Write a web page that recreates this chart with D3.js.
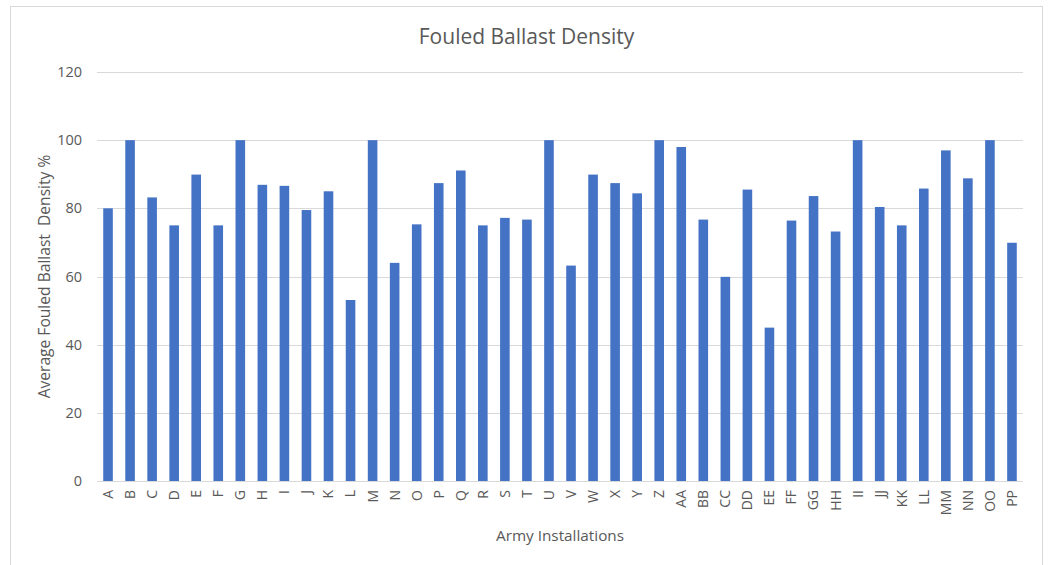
<!DOCTYPE html>
<html>
<head>
<meta charset="utf-8">
<script src="https://cdn.jsdelivr.net/npm/d3@7"></script>
<style>
  body { margin: 0; background: #fff; }
  text { font-family: 'Open Sans', sans-serif; fill: #595959; }
</style>
</head>
<body>
<div id="root"></div>
<script>
const width = 1051
const height = 565

const installations = ['A', 'B', 'C', 'D', 'E', 'F', 'G', 'H', 'I', 'J', 'K', 'L', 'M', 'N',
  'O', 'P', 'Q', 'R', 'S', 'T', 'U', 'V', 'W', 'X', 'Y', 'Z', 'AA', 'BB', 'CC', 'DD',
  'EE', 'FF', 'GG', 'HH', 'II', 'JJ', 'KK', 'LL', 'MM', 'NN', 'OO', 'PP']
const density = [80, 100, 83.2, 75, 89.9, 75, 100, 86.9, 86.6, 79.5, 85, 53.1, 100, 64,
  75.3, 87.4, 91.1, 75, 77.2, 76.7, 100, 63.2, 89.9, 87.4, 84.4, 100, 98, 76.7, 59.9, 85.5,
  45, 76.4, 83.6, 73.2, 100, 80.4, 75, 85.8, 97, 88.8, 100, 69.9]
const yTicks = [0, 20, 40, 60, 80, 100, 120]

const margin = { top: 72, right: 28, bottom: 84, left: 97 }

const svg = d3.select('#root').append('svg').attr('width', width).attr('height', height)

// chart frame
svg.append('rect')
  .attr('x', 10.5).attr('y', 6.5)
  .attr('width', 1032).attr('height', 600)
  .attr('fill', 'none')
  .attr('stroke', '#d9d9d9')

const x = d3.scaleBand()
  .domain(installations)
  .range([margin.left, width - margin.right])
  .paddingInner(0.565)
  .paddingOuter(0.2825)

const y = d3.scaleLinear()
  .domain([0, 120])
  .range([height - margin.bottom, margin.top])

// gridlines
svg.append('g')
  .selectAll('line')
  .data(yTicks)
  .join('line')
  .attr('x1', margin.left)
  .attr('x2', width - margin.right)
  .attr('y1', (d) => Math.round(y(d)) + 0.5)
  .attr('y2', (d) => Math.round(y(d)) + 0.5)
  .attr('stroke', '#d9d9d9')
  .attr('stroke-width', 1.2)

// y tick labels
svg.append('g')
  .selectAll('text')
  .data(yTicks)
  .join('text')
  .attr('x', 82)
  .attr('y', (d) => y(d))
  .attr('dy', '0.35em')
  .attr('text-anchor', 'end')
  .attr('font-size', 14.5)
  .text((d) => d)

// bars
svg.append('g')
  .selectAll('rect')
  .data(installations)
  .join('rect')
  .attr('x', (d) => x(d))
  .attr('width', x.bandwidth())
  .attr('y', (d, i) => y(density[i]))
  .attr('height', (d, i) => y(0) - y(density[i]))
  .attr('fill', '#4472c4')

// x tick labels, rotated
svg.append('g')
  .selectAll('text')
  .data(installations)
  .join('text')
  .attr('transform', (d) => `translate(${x(d) + x.bandwidth() / 2}, 490) rotate(-90)`)
  .attr('text-anchor', 'end')
  .attr('dy', '0.35em')
  .attr('font-size', 14)
  .text((d) => d)

// titles
svg.append('text')
  .attr('x', 526.5)
  .attr('y', 44)
  .attr('text-anchor', 'middle')
  .attr('font-size', 21)
  .text('Fouled Ballast Density')

svg.append('text')
  .attr('x', (margin.left + width - margin.right) / 2)
  .attr('y', 541)
  .attr('text-anchor', 'middle')
  .attr('font-size', 15.3)
  .text('Army Installations')

svg.append('text')
  .attr('transform', `translate(50, ${(y(0) + y(120)) / 2}) rotate(-90)`)
  .attr('text-anchor', 'middle')
  .attr('font-size', 15.6)
  .style('white-space', 'pre')
  .text('Average Fouled Ballast  Density %')
</script>
</body>
</html>
